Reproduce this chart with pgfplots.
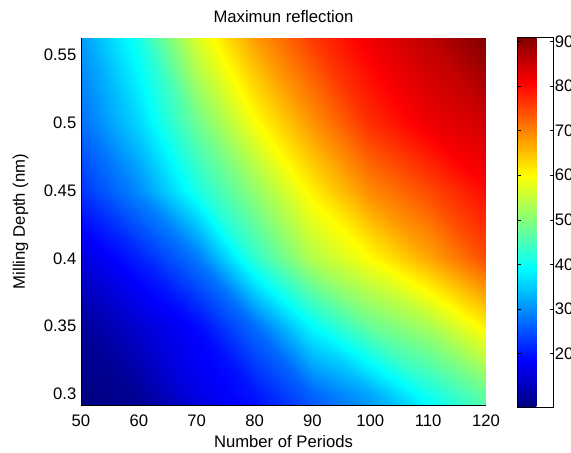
\documentclass[border=0pt]{standalone}
\usepackage{fontspec}
\setmainfont{Liberation Sans}
\usepackage{pgfplots}
\pgfplotsset{compat=1.18}
\newcommand{\lblfont}{\fontsize{12.5}{15}\selectfont}
\begin{document}
\begin{tikzpicture}
\begin{axis}[
  name=main,
  scale only axis, width=303.75pt, height=275.25pt,
  xmin=50, xmax=120, ymin=0.2919, ymax=0.5625,
  view={0}{90},
  xtick={50,60,...,120},
  ytick={0.3,0.35,0.4,0.45,0.5,0.55},
  yticklabels={0.3,0.35,0.4,0.45,0.5,0.55},
  axis x line*=bottom, axis y line*=left,
  axis line style={black, line width=0.5pt},
  major tick length=0pt,
  axis on top,
  colormap/jet,
  point meta min=8, point meta max=91,
  /pgf/number format/assume math mode=true,
  tick label style={font=\lblfont},
  xticklabel style={yshift=-3.5pt},
  label style={font=\lblfont},
  title style={font=\lblfont, at={(axis description cs:0.5,1)}, anchor=base, yshift=5.25pt},
  title={Maximun reflection},
  xlabel={Number of Periods},
  ylabel={Milling Depth (nm)},
  xlabel style={at={(axis description cs:0.5,0)}, anchor=base, yshift=-31.5pt},
  ylabel style={at={(axis description cs:-0.1383,0.5)}, anchor=base},
  colorbar,
  colorbar style={
    at={(parent axis.north east)}, anchor=north west, xshift=15pt, yshift=0.75pt,
    width=27pt, height=277.5pt,
    ytick={20,30,...,90},
    ytick pos=both,
    yticklabel pos=right,
    tick align=inside,
    major tick length=2.5pt,
    tick style={black, line width=0.4pt},
    axis line style={black, line width=0.5pt},
    /pgf/number format/assume math mode=true,
    yticklabel style={font=\lblfont, xshift=-2.5pt},
  },
]
\addplot3[surf, shader=interp] table {
x y z
50 0.2919 8
60 0.2919 9.5
70 0.2919 15.5
80 0.2919 19.3
90 0.2919 25.5
100 0.2919 31
110 0.2919 39
120 0.2919 46

50 0.3 8
60 0.3 10
70 0.3 16.5
80 0.3 20
90 0.3 26.5
100 0.3 32
110 0.3 40.5
120 0.3 47.5

50 0.35 10
60 0.35 14.7
70 0.35 19
80 0.35 27.3
90 0.35 39
100 0.35 47.5
110 0.35 52.8
120 0.35 61

50 0.4 15.5
60 0.4 20.9
70 0.4 28.2
80 0.4 43
90 0.4 53.7
100 0.4 60
110 0.4 67
120 0.4 74.6

50 0.45 22.5
60 0.45 29.7
70 0.45 41
80 0.45 51
90 0.45 61
100 0.45 69.4
110 0.45 74.6
120 0.45 80

50 0.5 27.3
60 0.5 36
70 0.5 48
80 0.5 59.5
90 0.5 68.6
100 0.5 77
110 0.5 82
120 0.5 84.5

50 0.5625 31
60 0.5625 41
70 0.5625 57
80 0.5625 68
90 0.5625 76
100 0.5625 82
110 0.5625 86
120 0.5625 91
};
\end{axis}
\pgfresetboundingbox
\path[use as bounding box] ([shift={(-60.75pt,-36pt)}]main.south west) rectangle ([shift={(367.5pt,28.5pt)}]main.north west);
\end{tikzpicture}
\end{document}
